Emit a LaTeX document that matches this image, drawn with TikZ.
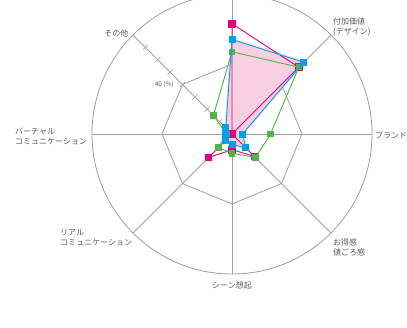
\documentclass[tikz,border=0pt]{standalone}
\usepackage{fontspec}
\newfontfamily\jp{Noto Sans CJK JP}
\usetikzlibrary{calc}
\definecolor{gridgray}{RGB}{158,158,158}
\definecolor{txtgray}{RGB}{90,90,90}
\definecolor{mag}{RGB}{228,0,127}
\definecolor{cya}{RGB}{0,160,233}
\definecolor{grn}{RGB}{80,180,70}
\definecolor{pinkfill}{RGB}{248,208,226}
\begin{document}
\begin{tikzpicture}[x=1pt,y=1pt,
  grid/.style={draw=gridgray,line width=0.8pt},
  lbl/.style={font=\jp\fontsize{8}{10}\selectfont,text=txtgray,inner sep=0pt,align=left},
  series/.style={line width=0.9pt,line join=round},
  mk/.style={fill=#1,draw=none,minimum size=7pt,inner sep=0pt,rectangle}]
\useasboundingbox (0,0) rectangle (407,-327);
\clip (0,0) rectangle (407,-327);
\begin{scope}[shift={(232,-134)}]
  \coordinate (O) at (0,0);
  % grid
  \draw[grid] (O) circle (140);
  \foreach \a in {90,45,0,-45,-90,-135,180,135} \draw[grid] (O) -- (\a:140);
  \draw[grid] (90:70) -- (45:70) -- (0:70) -- (-45:70) -- (-90:70) -- (-135:70) -- (180:70) -- (135:70) -- cycle;
  \foreach \r in {10,20,...,70}
    \draw[grid,line width=0.6pt] ($(135:\r*1.75)+(45:3.5)$) -- ($(135:\r*1.75)+(225:3.5)$);
  \node[font=\jp\fontsize{6.5}{7}\selectfont,text=txtgray,inner sep=0pt,anchor=east] (pct) at ($(135:70)+(-8.5,0)$) {40 (\%)};
  % data
  \foreach \v [count=\i] in {63,54,0,18,9,19,0,0}
    \coordinate (m\i) at ({135-45*\i}:{\v*1.75});
  \foreach \v [count=\i] in {54,58,6,11,6,5,4,5}
    \coordinate (c\i) at ({135-45*\i}:{\v*1.75});
  \foreach \v [count=\i] in {47,54,22,19,11,11,3,15}
    \coordinate (g\i) at ({135-45*\i}:{\v*1.75});
  % pink area
  \draw[pinkfill,line width=3pt,line join=round,opacity=0.7,xshift=1.5,yshift=-1.5]
    (c1) -- (c2) -- (c3) -- (c4) -- (c5) -- (c6) -- (c7) -- (c8) -- cycle;
  \fill[pinkfill] (c1) -- (c2) -- (c3) -- (c4) -- (c5) -- (c6) -- (c7) -- (c8) -- cycle;
  % series
  \draw[series,mag] (m1) -- (m2) -- (m3) -- (m4) -- (m5) -- (m6) -- (m7) -- (m8) -- cycle;
  \foreach \i in {1,...,8} \node[mk=mag,minimum size=7.5pt] (mm\i) at (m\i) {};
  \draw[series,grn] (g1) -- (g2) -- (g3) -- (g4) -- (g5) -- (g6) -- (g7) -- (g8) -- cycle;
  \foreach \i in {1,...,8} \node[mk=grn,minimum size=6.5pt] (gm\i) at (g\i) {};
  \draw[series,cya] (c1) -- (c2) -- (c3) -- (c4) -- (c5) -- (c6) -- (c7) -- (c8) -- cycle;
  \foreach \i in {1,...,8} \node[mk=cya] (cm\i) at (c\i) {};
\end{scope}
% labels
\node[lbl,anchor=east] (lNW) at (128.5,-33) {その他};
\node[lbl,anchor=west] (lNE) at (333,-27) {付加価値\\(デザイン)};
\node[lbl,anchor=west] (lE) at (375,-135) {ブランド};
\node[lbl,anchor=west] (lSE) at (333,-247) {お得感\\値ごろ感};
\node[lbl,anchor=center] (lS) at (232,-285) {シーン想起};
\node[lbl,anchor=west] (lSW) at (60,-237.5) {リアル\\コミュニケーション};
\node[lbl,anchor=west] (lW) at (15,-136) {バーチャル\\コミュニケーション};
\end{tikzpicture}
\end{document}
